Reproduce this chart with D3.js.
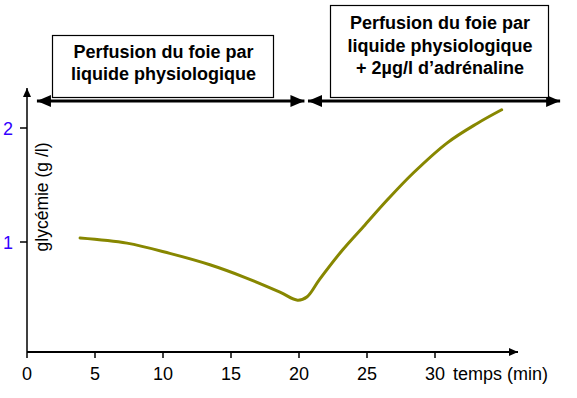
<!DOCTYPE html>
<html>
<head>
<meta charset="utf-8">
<script src="https://cdn.jsdelivr.net/npm/d3@7"></script>
<style>
  body { margin: 0; background: #fff; }
  text { font-family: Arial, "Liberation Sans", sans-serif; }
</style>
</head>
<body>
<svg id="chart" width="577" height="398"></svg>
<script>
// time (min) and glycemia (g/l)
const temps = [3.9, 7.35, 10.5, 13.45, 16.0, 18.6, 19.9, 20.6, 21.5, 23.2, 24.85, 26.5, 28.4, 30.9, 33.1, 34.9]
const glycemie = [1.035, 0.99, 0.9, 0.8, 0.69, 0.56, 0.49, 0.52, 0.67, 0.93, 1.15, 1.37, 1.605, 1.87, 2.04, 2.16]

const xTicks = [0, 5, 10, 15, 20, 25, 30]
const yTicks = [1, 2]

const periodStarts = [0.73, 20.66]
const periodEnds = [20.4, 39.2]
const periodLabels = [
  ['Perfusion du foie par', 'liquide physiologique'],
  ['Perfusion du foie par', 'liquide physiologique', '+ 2µg/l d’adrénaline'],
]

const AXIS_X = 27
const AXIS_Y = 352

const svg = d3.select('#chart')

const x = d3.scaleLinear().domain([0, 30]).range([AXIS_X, 435])
const y = d3.scaleLinear().domain([0, 2]).range([356, 128])

// arrow markers
const defs = svg.append('defs')
const addMarker = (id, orient, w, h) => {
  defs.append('marker')
    .attr('id', id)
    .attr('viewBox', `0 0 ${w} ${h}`)
    .attr('refX', w).attr('refY', h / 2)
    .attr('markerUnits', 'userSpaceOnUse')
    .attr('markerWidth', w).attr('markerHeight', h)
    .attr('orient', orient)
    .append('path')
    .attr('d', `M0,0L${w},${h / 2}L0,${h}Z`)
    .attr('fill', '#000')
}
addMarker('axisHead', 'auto', 9, 8)
addMarker('bigHead', 'auto-start-reverse', 14, 12)

// axes
svg.append('line')
  .attr('x1', AXIS_X).attr('y1', AXIS_Y)
  .attr('x2', AXIS_X).attr('y2', 88)
  .attr('stroke', '#000').attr('stroke-width', 1.5)
  .attr('marker-end', 'url(#axisHead)')

svg.append('line')
  .attr('x1', AXIS_X).attr('y1', AXIS_Y)
  .attr('x2', 518).attr('y2', AXIS_Y)
  .attr('stroke', '#000').attr('stroke-width', 2)
  .attr('marker-end', 'url(#axisHead)')

svg.selectAll('.xtick')
  .data(xTicks)
  .enter().append('line')
  .attr('class', 'xtick')
  .attr('x1', (d) => x(d)).attr('x2', (d) => x(d))
  .attr('y1', AXIS_Y).attr('y2', AXIS_Y + 6)
  .attr('stroke', '#000').attr('stroke-width', 1.5)

svg.selectAll('.xlabel')
  .data(xTicks)
  .enter().append('text')
  .attr('class', 'xlabel')
  .attr('x', (d) => x(d))
  .attr('y', 380)
  .attr('text-anchor', 'middle')
  .attr('font-size', 18)
  .text((d) => d)

svg.append('text')
  .attr('x', 453).attr('y', 380)
  .attr('font-size', 18)
  .text('temps (min)')

svg.selectAll('.ytick')
  .data(yTicks)
  .enter().append('line')
  .attr('class', 'ytick')
  .attr('x1', AXIS_X - 7).attr('x2', AXIS_X)
  .attr('y1', (d) => y(d)).attr('y2', (d) => y(d))
  .attr('stroke', '#000').attr('stroke-width', 1.5)

svg.selectAll('.ylabel')
  .data(yTicks)
  .enter().append('text')
  .attr('class', 'ylabel')
  .attr('x', 8)
  .attr('y', (d) => y(d) + 6.5)
  .attr('text-anchor', 'middle')
  .attr('font-size', 18)
  .attr('fill', '#3300ff')
  .text((d) => d)

svg.append('text')
  .attr('transform', 'translate(48,197) rotate(-90)')
  .attr('text-anchor', 'middle')
  .attr('font-size', 17.5)
  .text('glycémie (g /l)')

// curve
const line = d3.line()
  .x((d) => x(d[0]))
  .y((d) => y(d[1]))
  .curve(d3.curveCatmullRom)

svg.append('path')
  .datum(d3.zip(temps, glycemie))
  .attr('d', line)
  .attr('fill', 'none')
  .attr('stroke', '#878700')
  .attr('stroke-width', 3)
  .attr('stroke-linecap', 'round')

// perfusion periods: double-headed arrows and boxes
const boxes = [
  { x: 52, y: 35, w: 221, h: 62, lineY: 58, step: 22 },
  { x: 330, y: 5, w: 218, h: 92, lineY: 29, step: 22.5 },
]

periodStarts.forEach((start, i) => {
  svg.append('line')
    .attr('x1', x(start)).attr('x2', x(periodEnds[i]))
    .attr('y1', 101).attr('y2', 101)
    .attr('stroke', '#000').attr('stroke-width', 3)
    .attr('marker-start', 'url(#bigHead)')
    .attr('marker-end', 'url(#bigHead)')

  const b = boxes[i]
  svg.append('rect')
    .attr('x', b.x + 0.5).attr('y', b.y + 0.5)
    .attr('width', b.w).attr('height', b.h)
    .attr('fill', '#fff').attr('stroke', '#000').attr('stroke-width', 1.2)

  svg.append('g')
    .selectAll('text')
    .data(periodLabels[i])
    .enter().append('text')
    .attr('x', b.x + b.w / 2 + 1)
    .attr('y', (d, j) => b.lineY + j * b.step)
    .attr('text-anchor', 'middle')
    .attr('font-size', 18)
    .attr('font-weight', 'bold')
    .text((d) => d)
})
</script>
</body>
</html>
